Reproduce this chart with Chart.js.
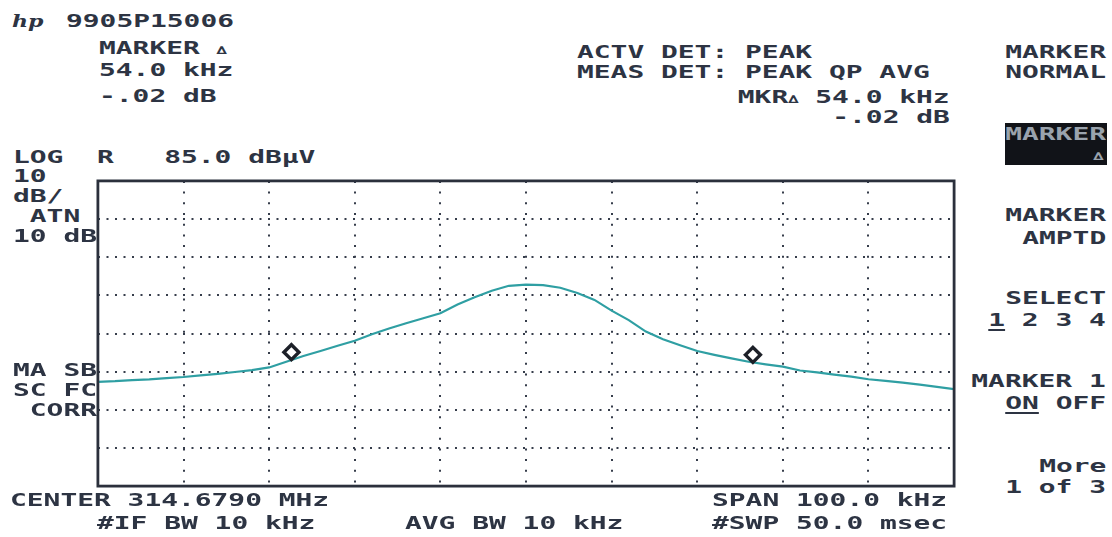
<!DOCTYPE html>
<html>
<head>
<meta charset="utf-8">
<script src="https://cdn.jsdelivr.net/npm/chart.js@4.4.1/dist/chart.umd.min.js"></script>
<style>
  html, body { margin:0; padding:0; background:#ffffff; }
  body { width:1112px; height:537px; position:relative; overflow:hidden; }
  .t { position:absolute; white-space:pre; font-family:'DejaVu Sans Mono', monospace; font-weight:bold;
       font-size:18px; line-height:20px; height:20px; color:#2d3443; transform:scaleX(1.55); transform-origin:left center; }
  .r { transform-origin:right center; text-align:right; }
  .d { font-size:11px; }
  #chartBox { position:absolute; left:87px; top:170px; width:878px; height:327px; }
  #mkbox { position:absolute; left:1005px; top:123px; width:102px; height:42px; background:#111318; }
  u { text-decoration-thickness:2px; text-underline-offset:3px; }
</style>
</head>
<body>
<div id="chartBox"><canvas id="c"></canvas></div>

<div class="t" style="left:12px;top:11px;font-family:'DejaVu Serif';font-style:italic;font-size:17px;transform:scaleX(1.3)">hp</div>
<div class="t" style="left:66px;top:11px">9905P15006</div>
<div class="t" style="left:99px;top:38px">MARKER <span class="d">∆</span></div>
<div class="t" style="left:99px;top:60px">54.0 kHz</div>
<div class="t" style="left:99px;top:86px">-.02 dB</div>

<div class="t" style="left:577px;top:42px">ACTV DET: PEAK</div>
<div class="t" style="left:577px;top:62px">MEAS DET: PEAK QP AVG</div>
<div class="t r" style="right:162px;top:87px">MKR<span class="d">∆</span> 54.0 kHz</div>
<div class="t r" style="right:162px;top:107px">-.02 dB</div>

<div class="t r" style="right:6px;top:42px">MARKER</div>
<div class="t r" style="right:6px;top:62px">NORMAL</div>
<div id="mkbox"></div>
<div class="t r" style="right:6px;top:124px;color:#9aa3ad">MARKER</div>
<div class="t r" style="right:8px;top:147px;color:#9aa3ad;font-size:11px">∆</div>
<div class="t r" style="right:6px;top:205px">MARKER</div>
<div class="t r" style="right:6px;top:228px">AMPTD</div>
<div class="t r" style="right:6px;top:288px">SELECT</div>
<div class="t r" style="right:6px;top:310px"><u>1</u> 2 3 4</div>
<div class="t r" style="right:6px;top:371px">MARKER 1</div>
<div class="t r" style="right:6px;top:393px"><u>ON</u> OFF</div>
<div class="t r" style="right:6px;top:456px">More</div>
<div class="t r" style="right:6px;top:477px">1 of 3</div>

<div class="t" style="left:13px;top:147px">LOG  R   85.0 dBμV</div>
<div class="t" style="left:13px;top:166px">10</div>
<div class="t" style="left:13px;top:186px">dB/</div>
<div class="t" style="left:13px;top:206px"> ATN</div>
<div class="t" style="left:13px;top:226px">10 dB</div>
<div class="t" style="left:13px;top:360px">MA SB</div>
<div class="t" style="left:13px;top:380px">SC FC</div>
<div class="t" style="left:13px;top:400px"> CORR</div>

<div class="t" style="left:10px;top:490px">CENTER 314.6790 MHz</div>
<div class="t" style="left:97px;top:513px">#IF BW 10 kHz</div>
<div class="t" style="left:405px;top:513px">AVG BW 10 kHz</div>
<div class="t" style="left:712px;top:490px">SPAN 100.0 kHz</div>
<div class="t" style="left:712px;top:513px">#SWP 50.0 msec</div>

<script>
// Frequency offset from center (kHz)
const freqKHz = [-50,-48,-46,-44,-42,-40,-38,-36,-34,-32,-30,-28,-26,-24,-22,-20,-18,-16,-14,-12,-10,-8,-6,-4,-2,0,2,4,6,8,10,12,14,16,18,20,22,24,26,28,30,32,34,36,38,40,42,44,46,48,50];
// Trace level (dBuV)
const levelDbuV = [32.3,32.5,32.8,33.0,33.3,33.6,34.0,34.4,34.9,35.4,36.1,37.6,39.1,40.4,41.8,43.1,44.8,46.3,47.7,49.0,50.3,52.6,54.5,56.2,57.5,57.8,57.7,57.0,55.6,53.8,51.0,48.5,45.5,43.5,41.9,40.4,39.4,38.5,37.6,36.9,36.3,35.3,34.8,34.2,33.7,33.0,32.6,32.1,31.6,31.0,30.4];
// Markers
const markerFreqKHz = [-27.4, 26.5];
const markerLevelDbuV = [40.1, 39.4];
// Axis settings
const xMin = -50, xMax = 50, xStep = 10;
const yMin = 5, yMax = 85, yStep = 10;

const frame = {
  id: 'frame',
  afterDraw(chart) {
    const a = chart.chartArea, ctx = chart.ctx;
    ctx.save();
    ctx.strokeStyle = '#2b303c';
    ctx.lineWidth = 2.8;
    ctx.strokeRect(a.left, a.top, a.right - a.left, a.bottom - a.top);
    ctx.restore();
  }
};

const edgeHidden = (last) => (c) => (c.index === 0 || c.index === last) ? 'rgba(0,0,0,0)' : '#363d4b';

new Chart(document.getElementById('c'), {
  type: 'scatter',
  data: {
    datasets: [
      {
        label: 'Trace',
        data: freqKHz.map((f, i) => ({ x: f, y: levelDbuV[i] })),
        showLine: true,
        borderColor: '#2f9fa3',
        borderWidth: 2.2,
        pointRadius: 0,
        tension: 0,
        order: 2
      },
      {
        label: 'Markers',
        data: markerFreqKHz.map((f, i) => ({ x: f, y: markerLevelDbuV[i] })),
        showLine: false,
        pointStyle: 'rectRot',
        pointRadius: 7.5,
        borderColor: '#1d2028',
        borderWidth: 3.4,
        backgroundColor: '#ffffff',
        order: 1
      }
    ]
  },
  options: {
    responsive: true,
    maintainAspectRatio: false,
    animation: false,
    layout: { padding: 10 },
    plugins: { legend: { display: false }, tooltip: { enabled: false } },
    scales: {
      x: {
        type: 'linear', min: xMin, max: xMax,
        ticks: { display: false, stepSize: xStep },
        grid: { color: edgeHidden(10), lineWidth: 2, drawTicks: false },
        border: { display: false, dash: [2, 8.7] }
      },
      y: {
        type: 'linear', min: yMin, max: yMax,
        ticks: { display: false, stepSize: yStep },
        grid: { color: edgeHidden(8), lineWidth: 2, drawTicks: false },
        border: { display: false, dash: [2, 6.5] }
      }
    }
  },
  plugins: [frame]
});
</script>
</body>
</html>
